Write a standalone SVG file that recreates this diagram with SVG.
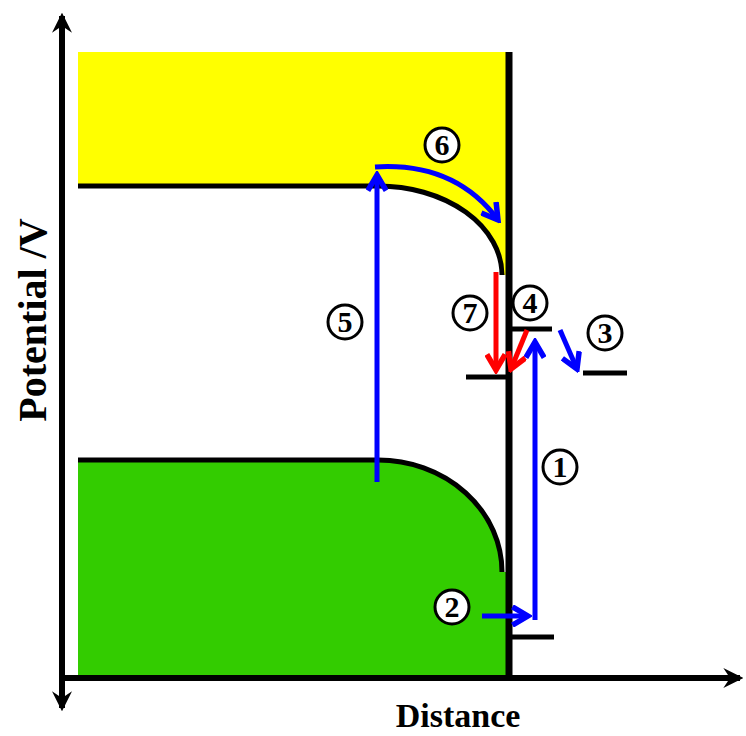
<svg xmlns="http://www.w3.org/2000/svg" width="746" height="736" viewBox="0 0 746 736">
<defs>
<style>
.ax{stroke:#000;stroke-width:6;fill:none}
.band{stroke:#000;stroke-width:5;fill:none}
.lvl{stroke:#000;stroke-width:5;fill:none}
.c circle{fill:#fff;stroke:#000;stroke-width:3}
.c text{font-family:"Liberation Serif",serif;font-weight:bold;font-size:30px;text-anchor:middle}
.lab{font-family:"Liberation Serif",serif;font-weight:bold;text-anchor:middle}
</style>
<marker id="ax" viewBox="0 0 12 12" refX="10" refY="6" markerWidth="20" markerHeight="20" orient="auto" markerUnits="userSpaceOnUse">
<path d="M0,0 L12,6 L0,12 L4,6 Z" fill="#000"/>
</marker>
<marker id="ab2" viewBox="0 0 12 12" refX="10" refY="6" markerWidth="22" markerHeight="22" orient="auto" markerUnits="userSpaceOnUse">
<path d="M1.5,1 L10,6 L1.5,11" fill="none" stroke="#0000ff" stroke-width="3"/>
</marker>
<marker id="ar2" viewBox="0 0 12 12" refX="10" refY="6" markerWidth="22" markerHeight="22" orient="auto" markerUnits="userSpaceOnUse">
<path d="M1.5,1 L10,6 L1.5,11" fill="none" stroke="#ff0000" stroke-width="3"/>
</marker>
</defs>
<rect width="746" height="736" fill="#fff"/>
<g id="regions">
<path d="M78,52 H508 V275 H502 A124,89 0 0 0 378,186 H78 Z" fill="#ffff00"/>
<path d="M78,460 H378 A124,112 0 0 1 502,572 H508 V676 H78 Z" fill="#33cc00"/>
</g>
<g id="bands">
<path class="band" d="M78,186 H378 A124,89 0 0 1 502,275"/>
<path class="band" d="M78,460 H378 A124,112 0 0 1 502,572"/>
<line x1="509" y1="52" x2="509" y2="678" stroke="#000" stroke-width="7"/>
<line class="lvl" x1="512" y1="329" x2="552" y2="329"/>
<line class="lvl" x1="466" y1="377" x2="506" y2="377"/>
<line class="lvl" x1="583" y1="373" x2="627" y2="373"/>
<line class="lvl" x1="512" y1="637" x2="554" y2="637"/>
</g>
<g id="axes">
<line class="ax" x1="62" y1="678" x2="62" y2="16" marker-end="url(#ax)"/>
<line class="ax" x1="62" y1="678" x2="62" y2="708" marker-end="url(#ax)"/>
<line class="ax" x1="59" y1="678" x2="740" y2="678" marker-end="url(#ax)"/>
</g>
<g id="connectors">
<path d="M377,482 V175" stroke="#0000ff" stroke-width="5" fill="none" marker-end="url(#ab2)"/>
<path d="M375,167 Q455,162 498,220" stroke="#0000ff" stroke-width="5" fill="none" marker-end="url(#ab2)"/>
<path d="M535,620 V342" stroke="#0000ff" stroke-width="5" fill="none" marker-end="url(#ab2)"/>
<path d="M482,616 H528" stroke="#0000ff" stroke-width="5" fill="none" marker-end="url(#ab2)"/>
<path d="M560,330 L577,369" stroke="#0000ff" stroke-width="5" fill="none" marker-end="url(#ab2)"/>
<path d="M496,272 V370" stroke="#ff0000" stroke-width="5" fill="none" marker-end="url(#ar2)"/>
<path d="M527,330 L511,369" stroke="#ff0000" stroke-width="5" fill="none" marker-end="url(#ar2)"/>
</g>
<g id="n1" class="c"><circle cx="560" cy="467" r="17"/><text x="560" y="477">1</text></g>
<g id="n2" class="c"><circle cx="452" cy="607" r="17"/><text x="452" y="617">2</text></g>
<g id="n3" class="c"><circle cx="605" cy="333" r="17"/><text x="605" y="343">3</text></g>
<g id="n4" class="c"><circle cx="530" cy="303" r="17"/><text x="530" y="313">4</text></g>
<g id="n5" class="c"><circle cx="345" cy="322" r="17"/><text x="345" y="332">5</text></g>
<g id="n6" class="c"><circle cx="442" cy="145" r="17"/><text x="442" y="155">6</text></g>
<g id="n7" class="c"><circle cx="470" cy="313" r="17"/><text x="470" y="323">7</text></g>
<text class="lab" x="458" y="727" font-size="34">Distance</text>
<text class="lab" transform="translate(46,320) rotate(-90)" font-size="40">Potential /V</text>
</svg>
